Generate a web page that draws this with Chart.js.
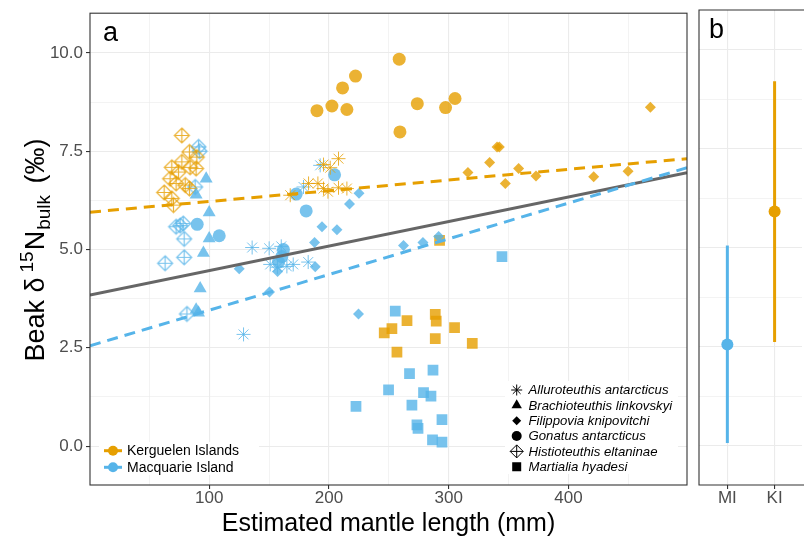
<!DOCTYPE html>
<html>
<head>
<meta charset="utf-8">
<script src="https://cdn.jsdelivr.net/npm/chart.js@4.4.1/dist/chart.umd.min.js"></script>
<style>
  html, body { margin: 0; padding: 0; background: #fff; }
  #wrap { position: relative; width: 808px; height: 543px; overflow: hidden; }
  #chartA { position: absolute; left: 0; top: 0; }
  #chartB { position: absolute; left: 692px; top: 0; }
</style>
</head>
<body>
<div id="wrap">
  <canvas id="chartA" width="695" height="543" style="width:695px;height:543px"></canvas>
  <canvas id="chartB" width="116" height="543" style="width:116px;height:543px"></canvas>
</div>
<script>
// ---- data (mantle length mm, beak d15N) ----
const kiAlluro = [[167.7,6.38],[183,6.68],[190.8,6.68],[195.5,6.55],[199.2,6.47],[208,6.57],[215,6.55],[195.5,7.16],[201.1,7.08],[208,7.31]];
const miAlluro = [[192.7,7.14],[178.8,6.59],[135.9,5.05],[150.1,5.03],[160.2,5.08],[128.7,2.84],[151,4.62],[164.9,4.57],[170.2,4.62],[182.7,4.68],[157,4.55]];
const miBrachio = [[97.5,6.80],[89.1,6.39],[100,5.94],[100,5.28],[95.2,4.91],[92.5,4.01],[89.1,3.47],[91.1,3.39]];
const kiFilippo = [[468.4,8.62],[340.4,7.61],[342.3,7.61],[334.2,7.21],[316.1,6.96],[358.4,7.06],[347.3,6.68],[372.9,6.87],[421.1,6.85],[449.8,6.99]];
const miFilippo = [[125.1,4.51],[150.4,3.92],[157.1,4.44],[188.6,4.56],[224.7,3.36],[194.2,5.58],[206.7,5.50],[217.2,6.16],[225.1,6.43],[188,5.18],[262.3,5.10],[278.5,5.18],[291.6,5.33]];
const kiGonatus = [[190,8.53],[202.5,8.65],[211.4,9.11],[215,8.56],[222.2,9.41],[258.7,9.84],[259.3,7.99],[273.8,8.71],[297.4,8.61],[305.3,8.84]];
const miGonatus = [[172.7,6.41],[181,5.98],[204.7,6.90],[90,5.64],[108.4,5.35],[160.7,4.82],[157.9,4.68],[162,5.0]];
const kiHistio = [[77.2,7.90],[83.5,7.48],[89.7,7.35],[68.8,7.09],[77.2,7.23],[84.1,7.09],[89.1,7.06],[67.4,6.80],[74.4,6.97],[80,6.64],[72.4,6.68],[62.4,6.45],[68.8,6.30],[70.2,6.13],[83.5,6.55]];
const miHistio = [[91.1,7.61],[92,7.5],[88.3,6.59],[72.4,5.58],[75.8,5.61],[78.3,5.66],[79.1,5.27],[63.2,4.65],[79.1,4.80],[81.4,3.36]];
const kiMartialia = [[288.8,3.35],[289.6,3.18],[265.2,3.19],[252.6,2.99],[246.2,2.88],[304.9,3.01],[288.8,2.73],[319.7,2.61],[256.8,2.39],[292.4,5.23]];
const miMartialia = [[255.4,3.43],[267.3,1.84],[286.9,1.93],[249.8,1.43],[279,1.36],[285.2,1.27],[269.3,1.04],[294.4,0.67],[273.5,0.54],[274.4,0.45],[286.5,0.16],[294.4,0.10],[222.6,1.01],[344.5,4.82]];

// fitted lines, end values at the panel edges
const fitX = [0.5, 499];
const kiFit = [5.95, 7.31];
const miFit = [2.55, 7.08];
const allFit = [3.84, 6.95];

// panel b: mean and range per island
const siteLabels = ['MI', 'KI'];
const siteMean = [2.56, 5.92];
const siteLow = [0.07, 2.62];
const siteHigh = [5.06, 9.21];

const xMajor = [100, 200, 300, 400];
const xGrid = [50, 100, 150, 200, 250, 300, 350, 400, 450];
const yMajor = [0, 2.5, 5, 7.5, 10];
const yGrid = [0, 1.25, 2.5, 3.75, 5, 6.25, 7.5, 8.75, 10];

const speciesNames = ['Alluroteuthis antarcticus', 'Brachioteuthis linkovskyi', 'Filippovia knipovitchi',
  'Gonatus antarcticus', 'Histioteuthis eltaninae', 'Martialia hyadesi'];
const islandNames = ['Kerguelen Islands', 'Macquarie Island'];

// ---- look ----
const ORANGE = '#E69F00', BLUE = '#56B4E9';
const ORANGE_A = 'rgba(230,159,0,0.8)', BLUE_A = 'rgba(86,180,233,0.8)';
const FONT = "'Liberation Sans', Arial, Helvetica, sans-serif";
Chart.defaults.font.family = FONT;

const pts = arr => arr.map(p => ({ x: p[0], y: p[1] }));

function crossDiamond(color, r, lw) {
  const s = Math.ceil(2 * r + 2 * lw) + 1;
  const c = document.createElement('canvas');
  c.width = s; c.height = s;
  const g = c.getContext('2d');
  const m = s / 2;
  g.strokeStyle = color; g.lineWidth = lw;
  g.beginPath();
  g.moveTo(m, m - r); g.lineTo(m + r, m); g.lineTo(m, m + r); g.lineTo(m - r, m); g.closePath();
  g.moveTo(m, m - r); g.lineTo(m, m + r);
  g.moveTo(m - r, m); g.lineTo(m + r, m);
  g.stroke();
  return c;
}

function filled(arr, style, color, r) {
  return { data: pts(arr), pointStyle: style, pointRadius: r, backgroundColor: color,
    borderColor: 'rgba(0,0,0,0)', borderWidth: 0, order: 1 };
}
function stars(arr, color) {
  return { data: pts(arr), pointStyle: 'star', pointRadius: 7, borderColor: color,
    backgroundColor: color, borderWidth: 1, order: 1 };
}
function crossed(arr, color) {
  return { data: pts(arr), pointStyle: crossDiamond(color, 7.5, 1.2), order: 1 };
}
function fit(vals, color, dash) {
  return { type: 'line', data: fitX.map((x, i) => ({ x: x, y: vals[i] })), borderColor: color,
    borderWidth: 3, borderDash: dash, pointRadius: 0, order: 0 };
}

// ---- legend symbols ----
function sym(ctx, kind, x, y) {
  ctx.save();
  ctx.fillStyle = '#000'; ctx.strokeStyle = '#000'; ctx.lineWidth = 1;
  ctx.beginPath();
  if (kind === 0) {
    const r = 5.5, d = r * Math.SQRT1_2;
    ctx.moveTo(x - r, y); ctx.lineTo(x + r, y); ctx.moveTo(x, y - r); ctx.lineTo(x, y + r);
    ctx.moveTo(x - d, y - d); ctx.lineTo(x + d, y + d); ctx.moveTo(x - d, y + d); ctx.lineTo(x + d, y - d);
    ctx.stroke();
  } else if (kind === 1) {
    const r = 6;
    ctx.moveTo(x, y - r); ctx.lineTo(x + r * 0.866, y + r / 2); ctx.lineTo(x - r * 0.866, y + r / 2); ctx.closePath();
    ctx.fill();
  } else if (kind === 2) {
    const r = 4.5;
    ctx.moveTo(x, y - r); ctx.lineTo(x + r, y); ctx.lineTo(x, y + r); ctx.lineTo(x - r, y); ctx.closePath();
    ctx.fill();
  } else if (kind === 3) {
    ctx.arc(x, y, 5, 0, Math.PI * 2); ctx.fill();
  } else if (kind === 4) {
    const r = 6.5;
    ctx.moveTo(x, y - r); ctx.lineTo(x + r, y); ctx.lineTo(x, y + r); ctx.lineTo(x - r, y); ctx.closePath();
    ctx.moveTo(x, y - r); ctx.lineTo(x, y + r); ctx.moveTo(x - r, y); ctx.lineTo(x + r, y);
    ctx.stroke();
  } else {
    ctx.fillRect(x - 4.5, y - 4.5, 9, 9);
  }
  ctx.restore();
}

const panelA = {
  id: 'panelA',
  afterDraw(chart) {
    const { ctx, chartArea: ca } = chart;
    ctx.save();
    // panel border
    ctx.strokeStyle = '#333333'; ctx.lineWidth = 1.1;
    ctx.strokeRect(ca.left, ca.top, ca.right - ca.left, ca.bottom - ca.top);

    // panel tag
    ctx.fillStyle = '#000'; ctx.font = '27px ' + FONT;
    ctx.textAlign = 'left'; ctx.textBaseline = 'alphabetic';
    ctx.fillText('a', ca.left + 13, ca.top + 28);

    // x title
    ctx.font = '25px ' + FONT; ctx.textAlign = 'center';
    ctx.fillText('Estimated mantle length (mm)', (ca.left + ca.right) / 2, 531);

    // y title with super/subscript: [text, size, shift, gap after]
    const parts = [['Beak \u03b4', 27, 0, 5], ['15', 19, -11, 1], ['N', 27, 0, 1], ['bulk', 19, 6, 4], [' (\u2030)', 27, 0, 0]];
    let total = 0;
    parts.forEach(p => { ctx.font = p[1] + 'px ' + FONT; p.push(ctx.measureText(p[0]).width); total += p[4] + p[3]; });
    ctx.translate(44, 250); ctx.rotate(-Math.PI / 2);
    ctx.textAlign = 'left';
    let cx = -total / 2;
    parts.forEach(p => { ctx.font = p[1] + 'px ' + FONT; ctx.fillText(p[0], cx, p[2]); cx += p[4] + p[3]; });
    ctx.setTransform(1, 0, 0, 1, 0, 0);

    // island legend
    ctx.fillStyle = '#fff'; ctx.fillRect(99, 442, 160, 33);
    ctx.font = '14px ' + FONT; ctx.textBaseline = 'middle'; ctx.textAlign = 'left';
    [ORANGE, BLUE].forEach((col, i) => {
      const y = 450.7 + i * 16.6;
      ctx.strokeStyle = col; ctx.lineWidth = 3;
      ctx.beginPath(); ctx.moveTo(104, y); ctx.lineTo(122, y); ctx.stroke();
      ctx.fillStyle = col; ctx.beginPath(); ctx.arc(113, y, 5, 0, Math.PI * 2); ctx.fill();
      ctx.fillStyle = '#000'; ctx.fillText(islandNames[i], 127, y + 0.5);
    });

    // species legend
    ctx.fillStyle = '#fff'; ctx.fillRect(505, 381, 173, 93);
    ctx.font = 'italic 13.2px ' + FONT;
    speciesNames.forEach((name, i) => {
      const y = 390 + i * 15.35;
      sym(ctx, i, 516.7, y);
      ctx.fillStyle = '#000'; ctx.fillText(name, 528.5, y + 0.5);
    });
    ctx.restore();
  }
};

new Chart(document.getElementById('chartA'), {
  type: 'scatter',
  data: {
    datasets: [
      fit(kiFit, ORANGE, [11, 7]),
      fit(miFit, BLUE, [11, 7]),
      fit(allFit, '#666666', []),
      stars(kiAlluro, ORANGE_A),
      stars(miAlluro, BLUE_A),
      filled(miBrachio, 'triangle', BLUE_A, 7.5),
      filled(kiFilippo, 'rectRot', ORANGE_A, 5.5),
      filled(miFilippo, 'rectRot', BLUE_A, 5.5),
      filled(kiGonatus, 'circle', ORANGE_A, 6.5),
      filled(miGonatus, 'circle', BLUE_A, 6.5),
      crossed(kiHistio, ORANGE_A),
      crossed(miHistio, BLUE_A),
      filled(kiMartialia, 'rect', ORANGE_A, 7.6),
      filled(miMartialia, 'rect', BLUE_A, 7.6)
    ]
  },
  options: {
    responsive: false,
    animation: false,
    layout: { padding: { left: 0, top: 10, right: 8, bottom: 0 } },
    plugins: { legend: { display: false }, tooltip: { enabled: false } },
    scales: {
      x: {
        type: 'linear', min: 0.5, max: 499,
        afterBuildTicks: s => { s.ticks = xGrid.map(v => ({ value: v })); },
        afterFit: s => { s.height = 58; },
        ticks: { autoSkip: false, maxRotation: 0, padding: -1, color: '#4D4D4D', font: { size: 17 },
          callback: v => xMajor.includes(v) ? String(v) : '' },
        grid: { color: '#EBEBEB', lineWidth: c => xMajor.includes(c.tick.value) ? 1.1 : 0.6,
          tickColor: c => xMajor.includes(c.tick.value) ? '#333333' : 'rgba(0,0,0,0)', tickLength: 4 },
        border: { display: false }
      },
      y: {
        type: 'linear', min: -0.99, max: 11.01,
        afterBuildTicks: s => { s.ticks = yGrid.map(v => ({ value: v })); },
        afterFit: s => { s.width = 90; },
        ticks: { autoSkip: false, padding: 3, color: '#4D4D4D', font: { size: 17 },
          callback: v => yMajor.includes(v) ? v.toFixed(1) : '' },
        grid: { color: '#EBEBEB', lineWidth: c => yMajor.includes(c.tick.value) ? 1.1 : 0.6,
          tickColor: c => yMajor.includes(c.tick.value) ? '#333333' : 'rgba(0,0,0,0)', tickLength: 4 },
        border: { display: false }
      }
    }
  },
  plugins: [panelA]
});

// ---- panel b ----
const siteColors = [BLUE, ORANGE];
const panelB = {
  id: 'panelB',
  afterDraw(chart) {
    const { ctx, chartArea: ca } = chart;
    ctx.save();
    ctx.strokeStyle = '#333333'; ctx.lineWidth = 1.1;
    ctx.beginPath();
    ctx.moveTo(ca.right + 2, ca.top); ctx.lineTo(ca.left, ca.top); ctx.lineTo(ca.left, ca.bottom); ctx.lineTo(ca.right + 2, ca.bottom);
    ctx.stroke();
    ctx.fillStyle = '#000'; ctx.font = '27px ' + FONT;
    ctx.fillText('b', ca.left + 10, ca.top + 28);
    ctx.restore();
  }
};

new Chart(document.getElementById('chartB'), {
  type: 'scatter',
  data: {
    datasets: siteLabels.map((s, i) => ({
      type: 'line', data: [{ x: i + 1, y: siteLow[i] }, { x: i + 1, y: siteHigh[i] }],
      borderColor: siteColors[i], borderWidth: 3, pointRadius: 0, order: 1
    })).concat([{
      data: siteMean.map((m, i) => ({ x: i + 1, y: m })), pointStyle: 'circle', pointRadius: 6,
      backgroundColor: siteColors, borderWidth: 0, order: 0
    }])
  },
  options: {
    responsive: false,
    animation: false,
    layout: { padding: { left: 0, top: 10, right: 0, bottom: 0 } },
    plugins: { legend: { display: false }, tooltip: { enabled: false } },
    scales: {
      x: {
        type: 'linear', min: 0.4, max: 2.58,
        afterBuildTicks: s => { s.ticks = siteLabels.map((l, i) => ({ value: i + 1 })); },
        afterFit: s => { s.height = 58; },
        ticks: { autoSkip: false, maxRotation: 0, padding: -1, color: '#4D4D4D', font: { size: 17 },
          callback: v => siteLabels[v - 1] },
        grid: { color: '#EBEBEB', lineWidth: 1.1, tickColor: '#333333', tickLength: 4 },
        border: { display: false }
      },
      y: {
        type: 'linear', min: -0.99, max: 11.01,
        afterBuildTicks: s => { s.ticks = yGrid.map(v => ({ value: v })); },
        afterFit: s => { s.width = 7; },
        ticks: { display: false },
        grid: { color: '#EBEBEB', lineWidth: c => yMajor.includes(c.tick.value) ? 1.1 : 0.6, drawTicks: false },
        border: { display: false }
      }
    }
  },
  plugins: [panelB]
});
</script>
</body>
</html>
